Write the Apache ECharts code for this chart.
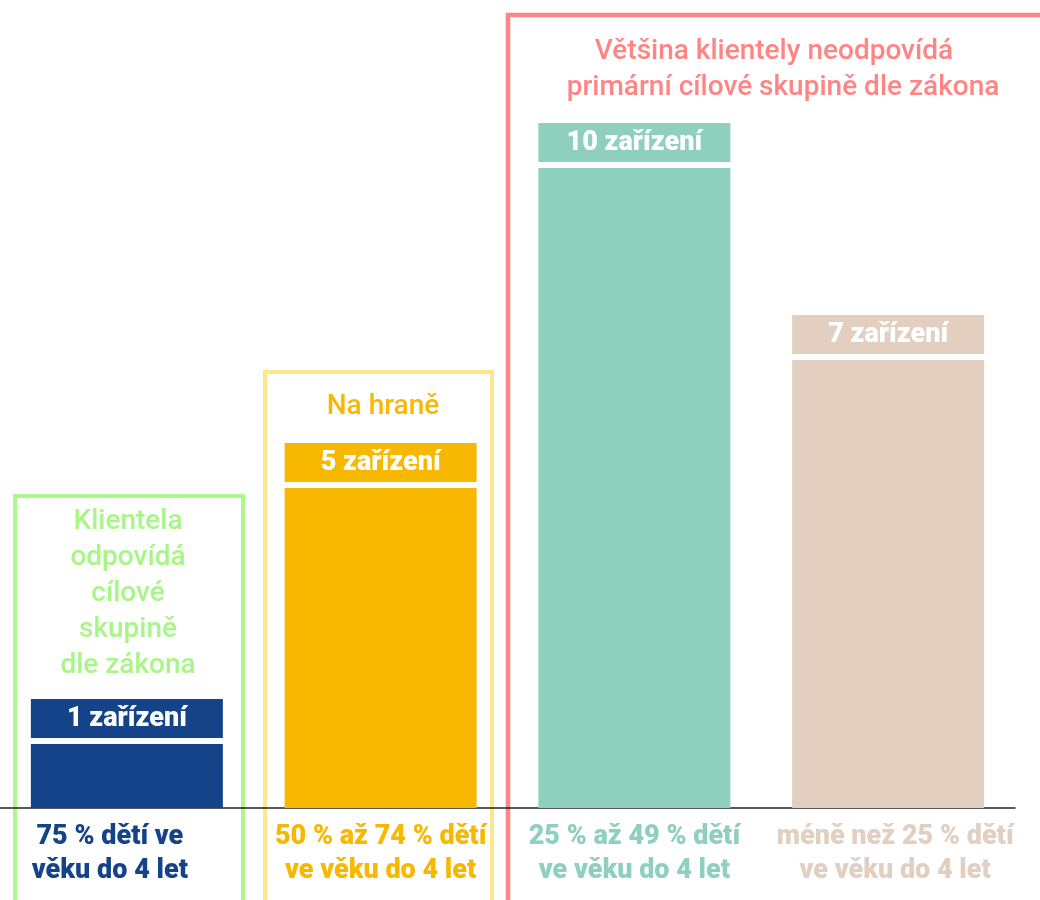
<!DOCTYPE html>
<html>
<head>
<meta charset="utf-8">
<script src="https://cdn.jsdelivr.net/npm/echarts@6/dist/echarts.min.js"></script>
<style>
  html, body { margin: 0; padding: 0; background: #fff; }
  #chart { width: 1040px; height: 900px; }
</style>
</head>
<body>
<div id="chart"></div>
<script>
// kategorie podle podílu dětí do 4 let
var categories = [
  '75 % dětí ve\nvěku do 4 let',
  '50 % až 74 % dětí\nve věku do 4 let',
  '25 % až 49 % dětí\nve věku do 4 let',
  'méně než 25 % dětí\nve věku do 4 let'
];
// počet zařízení
var counts = [1, 5, 10, 7];
var barColors = ['#14438a', '#f9b800', '#8fcfbe', '#e2cfc0'];
// posun popisků osy (první je v originále víc vlevo)
var labelPads = [[0, 34, 0, 0], [0, 0, 0, 0], [0, 0, 0, 0], [0, 0, 0, 14]];

var FONT = 'Roboto, "Noto Sans", sans-serif';

var chart = echarts.init(document.getElementById('chart'));

chart.setOption({
  animation: false,
  grid: {
    left: 0,
    right: 25,
    top: 8,
    bottom: 92
  },
  xAxis: {
    type: 'category',
    data: categories.map(function (c, i) {
      return { value: c, textStyle: { color: barColors[i], padding: labelPads[i] } };
    }),
    axisLine: { lineStyle: { color: '#222', width: 1.5 } },
    axisTick: { show: false },
    axisLabel: {
      interval: 0,
      margin: 12,
      fontFamily: FONT,
      fontSize: 27,
      fontWeight: 900,
      lineHeight: 34
    }
  },
  yAxis: {
    type: 'value',
    min: 0,
    max: 12.5,
    show: false,
    splitLine: { show: false }
  },
  series: [
    {
      type: 'bar',
      barWidth: 192,
      data: counts.map(function (v, i) {
        return {
          value: v,
          itemStyle: { color: barColors[i] },
          label: { backgroundColor: barColors[i] }
        };
      }),
      label: {
        show: true,
        position: 'top',
        distance: 6,
        formatter: '{c} zařízení',
        color: '#fff',
        fontFamily: FONT,
        fontSize: 27,
        fontWeight: 900,
        lineHeight: 28,
        width: 192,
        align: 'center',
        padding: [6, 0, 5, 0]
      }
    }
  ],
  graphic: [
    // rámečky skupin
    {
      type: 'rect',
      shape: { x: 15, y: 496, width: 228, height: 420 },
      style: { fill: 'none', stroke: '#aef78e', lineWidth: 4 }
    },
    {
      type: 'rect',
      shape: { x: 265, y: 372, width: 227, height: 540 },
      style: { fill: 'none', stroke: '#ffe58c', lineWidth: 4 }
    },
    {
      type: 'rect',
      shape: { x: 508, y: 15, width: 560, height: 900 },
      style: { fill: 'none', stroke: '#ff8585', lineWidth: 4.5 }
    },
    // popisky skupin
    {
      type: 'text',
      x: 128,
      y: 504,
      style: {
        text: 'Klientela\nodpovídá\ncílové\nskupině\ndle zákona',
        fill: '#aaf58a',
        font: '500 28px ' + FONT,
        lineHeight: 36,
        align: 'center'
      }
    },
    {
      type: 'text',
      x: 383,
      y: 389,
      style: {
        text: 'Na hraně',
        fill: '#f9b800',
        font: '500 28px ' + FONT,
        lineHeight: 36,
        align: 'center'
      }
    },
    {
      type: 'text',
      x: 774,
      y: 34,
      style: {
        text: 'Většina klientely neodpovídá',
        fill: '#ff8585',
        font: '500 28px ' + FONT,
        lineHeight: 36,
        align: 'center'
      }
    },
    {
      type: 'text',
      x: 783,
      y: 70,
      style: {
        text: 'primární cílové skupině dle zákona',
        fill: '#ff8585',
        font: '500 28px ' + FONT,
        lineHeight: 36,
        align: 'center'
      }
    }
  ]
});
</script>
</body>
</html>
